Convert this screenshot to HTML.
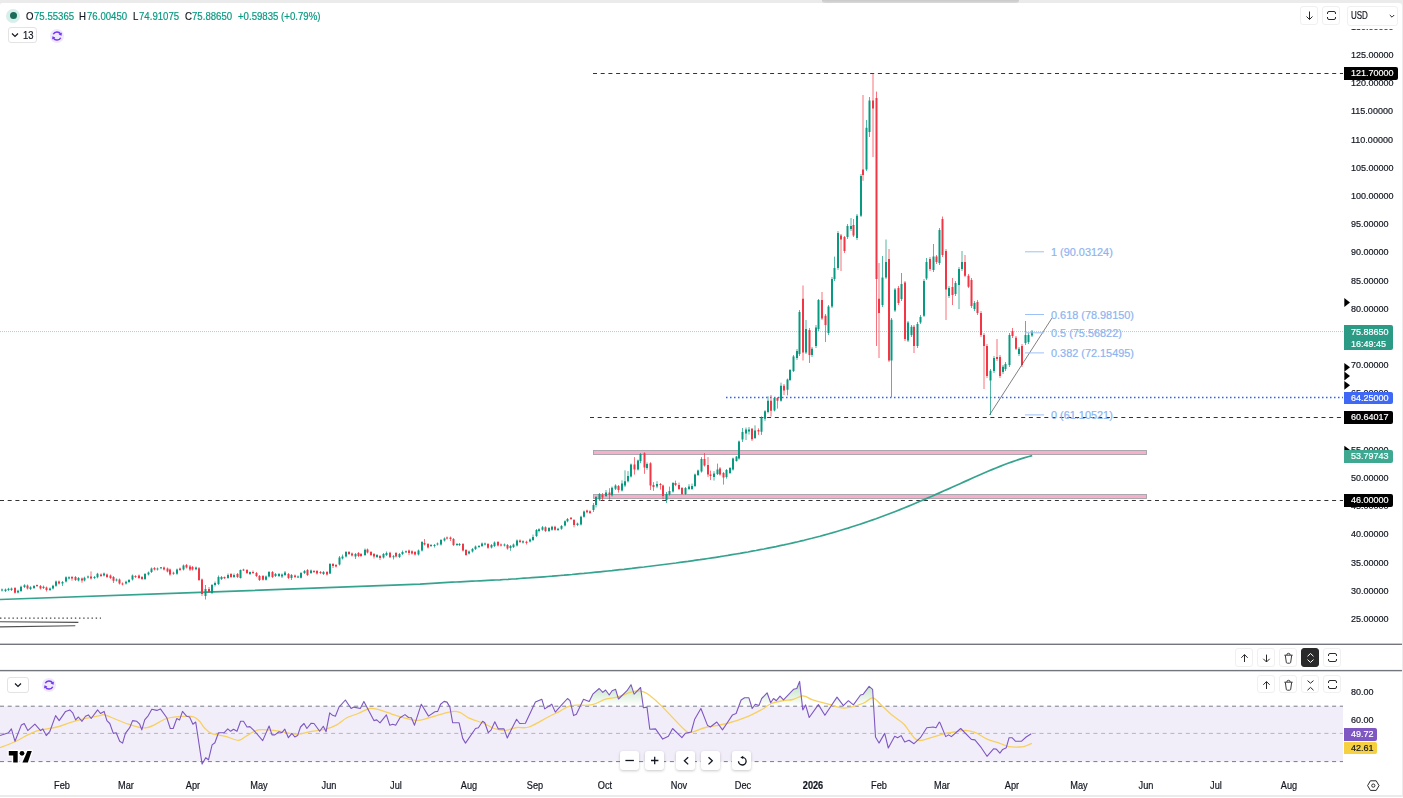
<!DOCTYPE html>
<html><head><meta charset="utf-8"><style>
*{box-sizing:border-box}
body div{-webkit-text-stroke:0.2px currentColor}
html,body{margin:0;padding:0;width:1403px;height:798px;overflow:hidden;background:#ebebeb;font-family:"Liberation Sans", sans-serif}
#panel{position:absolute;left:0;top:2.5px;width:1402px;height:792.5px;background:#fff;border-radius:2px 3px 0 0}
.pl{position:absolute;left:1351px;width:50px;height:12px;line-height:12px;font-size:9.7px;color:#131722;white-space:nowrap;transform:scaleX(0.93);transform-origin:0 0}
.tl{position:absolute;top:779px;width:50px;text-align:center;height:13px;line-height:13px;font-size:10px;color:#131722;transform:scaleX(0.92)}
.lab{position:absolute;left:1344.3px;color:#fff;font-size:9.7px;line-height:12.5px;padding-left:7px;padding-right:4px;border-radius:0 2px 2px 0;white-space:nowrap}
.lab span{display:inline-block;transform:scaleX(0.93);transform-origin:0 0;margin-right:-3px}
.btn{position:absolute;width:18.3px;height:18.5px;border:1px solid #f0f0f0;border-radius:3px;background:#fff}
.btn svg{position:absolute;left:0;top:0}
.lg{position:absolute;top:9.8px;font-size:11px;line-height:13px;white-space:nowrap;transform:scaleX(0.875);transform-origin:0 0}
.fib{position:absolute;left:1051px;font-size:10.9px;color:#8db4f0;line-height:12px;white-space:nowrap}
.nav{position:absolute;top:751.2px;width:19px;height:19px;background:#fff;border-radius:3px;box-shadow:0 1px 3px rgba(0,0,0,0.22)}
</style></head><body>
<div id="panel"></div>
<div style="position:absolute;left:0;top:797.3px;width:1403px;height:1px;background:#fff"></div>
<div style="position:absolute;left:822px;top:0;width:197px;height:2.5px;background:linear-gradient(#c9c9c9,#d9d9d9);border-radius:0 0 4px 4px;filter:blur(0.5px)"></div>
<svg width="1403" height="798" viewBox="0 0 1403 798" style="position:absolute;left:0;top:0">
<defs><clipPath id="cc"><rect x="0" y="3" width="1343" height="640"/></clipPath><clipPath id="rc"><rect x="0" y="672" width="1343" height="97"/></clipPath><linearGradient id="gfill" x1="0" y1="0" x2="0" y2="1"><stop offset="0" stop-color="#089981" stop-opacity="0.35"/><stop offset="1" stop-color="#089981" stop-opacity="0"/></linearGradient></defs>
<g clip-path="url(#cc)">
<line x1="0" y1="331.6" x2="1343" y2="331.6" stroke="#089981" stroke-opacity="0.4" stroke-width="1" stroke-dasharray="1 1"/>
<rect x="593.5" y="450.5" width="553" height="4" fill="#f6b0c9" stroke="#a3a3a8" stroke-width="0.9"/>
<rect x="593.5" y="494.5" width="553" height="4" fill="#f6b0c9" stroke="#a3a3a8" stroke-width="0.9"/>
<line x1="593" y1="73.5" x2="1343" y2="73.5" stroke="#333" stroke-width="1" stroke-dasharray="4 3.7"/>
<line x1="590" y1="417.5" x2="1343" y2="417.5" stroke="#333" stroke-width="1" stroke-dasharray="4 3.7"/>
<line x1="0" y1="500.5" x2="1343" y2="500.5" stroke="#333" stroke-width="1" stroke-dasharray="4 3.7"/>
<line x1="726" y1="397.5" x2="1343" y2="397.5" stroke="#2962ff" stroke-width="1.3" stroke-dasharray="1.5 2.5"/>
<path d="M0.0 599.5 L200.0 592.4 L420.0 584.2 L440.0 582.8 L444.0 582.6 L448.0 582.4 L452.0 582.2 L456.0 582.0 L460.0 581.8 L464.0 581.6 L468.0 581.4 L472.0 581.2 L476.0 581.0 L480.0 580.8 L484.0 580.6 L488.0 580.4 L492.0 580.2 L496.0 580.0 L500.0 579.8 L504.0 579.5 L508.0 579.3 L512.0 579.0 L516.0 578.8 L520.0 578.5 L524.0 578.2 L528.0 578.0 L532.0 577.7 L536.0 577.4 L540.0 577.1 L544.0 576.8 L548.0 576.5 L552.0 576.2 L556.0 575.8 L560.0 575.5 L564.0 575.2 L568.0 574.8 L572.0 574.5 L576.0 574.1 L580.0 573.7 L584.0 573.4 L588.0 573.0 L592.0 572.6 L596.0 572.2 L600.0 571.8 L604.0 571.4 L608.0 571.0 L612.0 570.6 L616.0 570.1 L620.0 569.7 L624.0 569.3 L628.0 568.8 L632.0 568.4 L636.0 567.9 L640.0 567.4 L644.0 567.0 L648.0 566.5 L652.0 566.0 L656.0 565.5 L660.0 565.0 L664.0 564.5 L668.0 564.0 L672.0 563.5 L676.0 563.0 L680.0 562.4 L684.0 561.9 L688.0 561.4 L692.0 560.8 L696.0 560.2 L700.0 559.7 L704.0 559.1 L708.0 558.5 L712.0 557.9 L716.0 557.3 L720.0 556.7 L724.0 556.0 L728.0 555.4 L732.0 554.7 L736.0 554.0 L740.0 553.4 L744.0 552.7 L748.0 552.0 L752.0 551.2 L756.0 550.5 L760.0 549.7 L764.0 549.0 L768.0 548.2 L772.0 547.4 L776.0 546.6 L780.0 545.7 L784.0 544.9 L788.0 544.0 L792.0 543.1 L796.0 542.2 L800.0 541.2 L804.0 540.3 L808.0 539.3 L812.0 538.3 L816.0 537.2 L820.0 536.2 L824.0 535.1 L828.0 534.0 L832.0 532.9 L836.0 531.7 L840.0 530.5 L844.0 529.3 L848.0 528.1 L852.0 526.8 L856.0 525.5 L860.0 524.2 L864.0 522.9 L868.0 521.5 L872.0 520.1 L876.0 518.7 L880.0 517.2 L884.0 515.8 L888.0 514.3 L892.0 512.7 L896.0 511.2 L900.0 509.6 L904.0 508.0 L908.0 506.4 L912.0 504.7 L916.0 503.0 L920.0 501.3 L924.0 499.6 L928.0 497.9 L932.0 496.2 L936.0 494.4 L940.0 492.6 L944.0 490.8 L948.0 489.1 L952.0 487.3 L956.0 485.5 L960.0 483.7 L964.0 481.9 L968.0 480.1 L972.0 478.3 L976.0 476.5 L980.0 474.8 L984.0 473.0 L988.0 471.3 L992.0 469.6 L996.0 468.0 L1000.0 466.4 L1004.0 464.8 L1008.0 463.3 L1012.0 461.9 L1016.0 460.5 L1020.0 459.1 L1024.0 457.9 L1028.0 456.7 L1032.2 455.6" stroke="#36a38f" stroke-width="1.7" fill="none" stroke-linejoin="round"/>
<path d="M2.0 588.5V591.5M5.5 588.5V592.0M8.5 587.8V591.0M11.5 587.5V591.0M18.0 589.7V593.4M21.0 585.7V592.0M24.5 584.2V588.0M30.5 586.2V590.0M34.0 585.0V589.0M43.5 585.5V589.0M50.0 587.5V591.0M53.0 584.8V589.5M56.0 580.5V586.8M62.5 581.0V586.0M66.0 576.3V582.5M69.0 576.3V579.5M78.5 577.0V581.4M84.5 576.7V581.4M88.0 575.5V578.5M94.5 576.0V579.0M97.5 572.8V578.3M104.0 572.5V576.5M116.5 578.5V581.5M126.0 580.7V584.5M129.0 579.0V583.0M132.5 574.5V580.5M145.0 573.0V580.0M148.5 571.5V575.5M151.5 567.5V573.0M157.5 567.5V570.5M161.0 567.0V569.3M177.0 568.5V574.8M183.5 564.5V570.5M196.0 566.5V570.3M205.5 585.0V599.5M212.0 584.0V594.0M215.0 581.5V586.5M218.5 575.5V585.0M221.5 576.0V580.0M228.0 573.5V578.8M234.0 573.5V578.0M240.5 569.5V578.5M250.0 571.5V575.0M266.0 575.5V580.5M269.0 571.0V577.5M275.5 573.0V577.0M279.0 573.0V577.0M282.0 573.5V578.0M285.0 571.0V576.0M291.5 574.0V580.0M298.0 575.5V578.0M301.0 572.0V578.5M304.5 570.0V574.0M311.0 569.5V574.0M323.5 571.0V575.0M330.0 563.0V574.0M339.5 556.0V565.5M342.5 554.5V559.5M346.0 551.0V557.5M355.5 553.0V559.0M365.0 548.5V556.0M377.0 554.0V558.0M383.5 553.0V558.5M386.5 551.5V556.0M393.5 555.0V559.5M399.5 553.0V558.0M402.5 550.5V555.0M406.0 550.5V553.0M418.5 549.5V555.5M422.0 541.0V551.5M431.0 544.0V547.0M434.5 544.0V547.5M437.5 542.5V545.5M441.0 539.0V545.6M444.5 537.4V541.5M457.0 543.0V546.0M459.5 543.0V546.0M469.0 550.5V554.5M472.5 548.0V552.5M475.5 545.5V550.0M479.0 545.0V548.0M482.0 542.5V547.0M485.0 542.6V545.5M491.5 544.0V548.5M494.5 541.4V547.0M504.5 543.5V546.5M510.5 545.0V550.8M513.5 543.5V548.0M517.0 539.4V546.5M523.0 540.3V543.6M530.0 538.4V542.5M533.0 534.5V541.0M536.5 529.0V537.0M539.0 528.2V532.4M542.5 526.0V530.7M549.0 527.0V532.0M552.0 525.8V530.7M558.0 527.8V531.0M561.5 525.0V529.8M565.0 520.3V526.5M567.5 518.0V522.3M577.5 522.6V526.1M581.0 515.7V525.5M584.0 510.5V517.7M593.5 503.0V512.0M596.0 496.0V507.5M599.5 493.0V501.0M606.0 490.0V497.0M612.0 486.5V496.5M615.5 484.3V490.0M622.0 480.3V491.5M625.0 470.3V487.0M628.0 471.1V482.5M631.0 463.5V477.5M638.0 459.5V470.5M640.5 453.0V463.2M647.0 462.4V469.8M657.0 481.2V488.2M666.5 492.0V503.0M669.5 486.6V495.6M673.0 482.0V492.6M685.5 487.0V495.0M689.0 484.2V490.0M692.0 483.6V490.0M695.0 473.6V487.0M698.0 469.6V476.0M701.5 457.1V472.6M714.0 471.1V480.6M717.5 463.6V475.0M726.5 469.0V478.6M730.0 467.1V474.1M733.0 457.6V470.6M736.5 456.1V461.6M739.0 440.5V459.6M742.5 428.0V442.0M746.0 427.5V440.0M749.0 427.0V434.5M755.0 425.3V439.0M761.5 416.4V434.9M765.0 410.2V420.9M768.0 396.3V413.4M774.5 397.0V411.4M781.0 382.7V401.7M787.5 378.6V395.4M790.0 369.0V381.0M793.5 355.0V372.0M797.0 349.0V360.0M799.5 310.0V356.0M806.0 320.0V354.0M812.0 347.0V357.0M816.0 325.0V348.0M818.5 299.0V331.0M828.5 305.0V335.0M832.0 277.0V308.0M834.5 256.6V281.0M838.0 231.0V270.0M847.5 224.0V239.0M851.0 218.0V231.0M857.0 214.0V240.0M861.0 174.0V217.0M866.5 120.0V171.0M869.5 97.0V137.0M882.5 256.0V307.0M886.0 239.5V279.0M891.5 318.0V397.0M895.0 288.0V312.0M901.5 273.0V301.0M908.0 321.0V342.0M911.5 325.0V337.0M917.5 322.0V348.0M920.5 315.0V324.0M924.0 279.0V317.0M926.5 258.0V280.0M933.5 244.0V272.0M939.5 228.0V265.0M949.0 286.0V298.0M955.5 281.0V296.0M959.0 267.0V309.0M962.0 251.0V271.0M974.5 301.0V311.0M990.5 369.0V415.0M994.0 356.0V373.0M1003.0 365.0V374.0M1005.5 362.0V371.0M1009.5 333.0V367.0M1019.0 347.0V356.0M1025.5 321.0V345.0M1028.5 333.0V344.0M1032.0 330.0V337.0" stroke="#089981" stroke-opacity="0.7" stroke-width="1" fill="none"/><path d="M15.0 587.0V593.5M27.5 584.5V589.5M37.0 584.5V587.0M40.5 585.0V589.5M46.5 586.5V591.5M59.0 580.5V584.5M72.0 576.0V580.7M75.5 576.0V581.0M82.0 577.5V582.8M91.0 571.4V579.5M101.0 573.4V577.0M107.0 573.5V578.0M110.5 574.5V579.0M113.5 576.0V583.0M119.5 578.5V584.5M122.5 582.4V585.4M135.5 575.2V578.0M139.0 574.5V579.0M142.0 576.0V580.0M154.5 567.0V570.5M164.0 566.5V570.5M167.5 567.5V572.4M170.0 568.5V575.7M173.5 571.7V574.8M180.0 567.5V571.0M186.5 564.0V568.5M190.0 565.0V571.0M192.5 566.0V570.5M199.0 567.0V581.0M202.0 578.5V596.0M209.0 587.0V593.0M224.5 576.5V579.0M231.0 573.0V578.0M237.5 573.0V578.0M243.5 568.7V571.0M247.0 569.0V574.0M253.0 570.5V574.0M256.5 572.0V577.0M259.5 575.0V581.0M263.0 575.0V580.5M272.5 571.0V578.0M288.5 573.0V579.0M295.0 574.5V578.0M307.5 569.0V576.0M314.0 570.0V573.0M317.0 570.0V574.5M320.5 571.0V574.0M327.0 571.0V575.5M333.0 563.0V568.0M336.0 564.0V567.5M349.0 551.0V555.0M352.0 552.5V556.5M358.5 552.0V557.0M361.0 553.0V557.0M367.5 548.5V553.5M371.0 551.0V556.0M374.0 553.0V558.5M380.0 555.0V560.0M390.0 551.8V558.0M396.0 552.0V557.5M409.0 549.5V555.2M412.0 550.3V554.6M415.0 551.0V555.5M424.5 539.0V545.5M428.0 543.0V548.5M447.0 536.5V539.5M450.5 536.5V541.0M453.5 538.0V546.0M463.0 543.0V551.5M466.0 549.0V555.8M488.0 543.0V548.8M498.0 541.0V546.5M501.0 543.5V546.5M507.5 544.0V549.6M520.0 539.4V543.0M526.5 540.7V544.5M545.5 526.3V532.0M555.0 525.8V530.7M571.0 517.0V520.0M574.0 519.0V527.3M587.0 509.6V513.3M590.0 510.3V514.0M602.5 493.0V500.5M609.5 488.2V499.6M618.5 485.0V492.6M634.5 457.1V474.6M644.5 452.3V473.8M650.5 462.2V490.0M653.5 482.1V490.9M660.5 483.0V489.6M663.0 484.6V499.2M675.5 480.6V486.2M679.0 482.6V490.0M682.0 487.0V495.0M704.5 453.1V466.6M708.0 457.1V477.1M710.5 470.6V480.1M720.0 467.1V475.6M723.5 472.0V484.6M752.0 428.0V441.0M758.5 428.3V434.9M771.0 395.0V416.5M777.5 397.0V408.6M784.0 384.0V395.0M803.0 285.5V360.5M809.5 328.0V363.0M822.0 292.0V320.0M825.5 314.0V342.0M841.0 234.0V271.0M844.5 236.0V253.0M853.5 219.0V237.0M863.0 95.0V180.8M873.0 73.5V157.0M876.5 91.6V346.0M879.0 263.0V358.0M889.0 249.0V362.0M898.5 286.0V305.0M905.0 281.0V341.0M914.0 325.0V353.0M930.0 257.0V271.0M936.5 255.0V264.0M942.5 216.5V257.0M946.0 249.0V320.0M952.5 278.0V305.0M965.0 255.0V277.0M968.5 274.0V288.0M971.5 278.0V308.0M977.5 300.0V315.0M981.0 311.0V337.0M984.0 333.0V389.0M987.0 344.0V378.0M997.0 339.0V361.0M1000.0 355.0V378.0M1012.5 328.0V338.0M1016.0 336.0V350.0M1022.0 344.0V367.0" stroke="#f23645" stroke-opacity="0.7" stroke-width="1" fill="none"/><path d="M1.0 589.5h2V590.5h-2ZM4.5 589.5h2V591.0h-2ZM7.5 588.8h2V590.0h-2ZM10.5 588.5h2V590.0h-2ZM17.0 590.7h2V592.4h-2ZM20.0 586.7h2V591.0h-2ZM23.5 585.2h2V587.0h-2ZM29.5 587.2h2V589.0h-2ZM33.0 586.0h2V588.0h-2ZM42.5 586.8h2V588.0h-2ZM49.0 588.5h2V590.0h-2ZM52.0 585.8h2V588.5h-2ZM55.0 581.5h2V585.8h-2ZM61.5 582.0h2V583.5h-2ZM65.0 577.3h2V581.5h-2ZM68.0 577.3h2V578.5h-2ZM77.5 578.0h2V580.4h-2ZM83.5 577.7h2V580.4h-2ZM87.0 576.5h2V577.5h-2ZM93.5 577.0h2V578.0h-2ZM96.5 573.8h2V577.3h-2ZM103.0 573.5h2V575.5h-2ZM115.5 579.5h2V580.5h-2ZM125.0 581.7h2V583.5h-2ZM128.0 580.0h2V582.0h-2ZM131.5 575.5h2V579.5h-2ZM144.0 574.0h2V579.0h-2ZM147.5 572.5h2V574.5h-2ZM150.5 568.5h2V572.0h-2ZM156.5 568.5h2V569.5h-2ZM160.0 567.3h2V568.3h-2ZM176.0 569.5h2V573.8h-2ZM182.5 565.5h2V569.5h-2ZM195.0 567.5h2V569.3h-2ZM204.5 589.0h2V596.0h-2ZM211.0 585.0h2V593.0h-2ZM214.0 583.0h2V585.0h-2ZM217.5 577.0h2V584.0h-2ZM220.5 577.0h2V579.0h-2ZM227.0 575.0h2V578.0h-2ZM233.0 575.0h2V577.0h-2ZM239.5 570.0h2V578.0h-2ZM249.0 572.0h2V574.0h-2ZM265.0 576.5h2V579.7h-2ZM268.0 572.0h2V576.5h-2ZM274.5 574.0h2V576.0h-2ZM278.0 574.0h2V576.0h-2ZM281.0 574.6h2V576.5h-2ZM284.0 572.5h2V575.0h-2ZM290.5 575.0h2V578.0h-2ZM297.0 576.5h2V577.5h-2ZM300.0 573.0h2V577.8h-2ZM303.5 571.0h2V573.0h-2ZM310.0 570.5h2V573.0h-2ZM322.5 572.0h2V574.0h-2ZM329.0 564.0h2V573.4h-2ZM338.5 557.5h2V564.6h-2ZM341.5 556.5h2V558.5h-2ZM345.0 552.0h2V556.5h-2ZM354.5 554.0h2V556.6h-2ZM364.0 549.7h2V555.0h-2ZM376.0 555.0h2V557.0h-2ZM382.5 554.0h2V557.5h-2ZM385.5 553.0h2V555.0h-2ZM392.5 556.2h2V557.2h-2ZM398.5 554.0h2V557.0h-2ZM401.5 552.0h2V554.0h-2ZM405.0 551.2h2V552.2h-2ZM417.5 550.5h2V554.5h-2ZM421.0 542.0h2V550.5h-2ZM430.0 545.0h2V546.0h-2ZM433.5 545.0h2V546.0h-2ZM436.5 543.5h2V544.5h-2ZM440.0 540.0h2V544.6h-2ZM443.5 538.4h2V540.5h-2ZM456.0 544.0h2V545.0h-2ZM458.5 544.0h2V545.0h-2ZM468.0 551.5h2V553.5h-2ZM471.5 549.0h2V551.5h-2ZM474.5 546.5h2V549.0h-2ZM478.0 546.0h2V547.0h-2ZM481.0 543.5h2V546.0h-2ZM484.0 543.5h2V544.5h-2ZM490.5 545.0h2V547.5h-2ZM493.5 542.4h2V546.0h-2ZM503.5 544.5h2V545.6h-2ZM509.5 546.0h2V548.0h-2ZM512.5 544.5h2V547.0h-2ZM516.0 540.4h2V545.5h-2ZM522.0 541.3h2V542.6h-2ZM529.0 539.4h2V541.5h-2ZM532.0 537.0h2V540.0h-2ZM535.5 530.0h2V536.0h-2ZM538.0 529.2h2V531.0h-2ZM541.5 527.3h2V529.7h-2ZM548.0 528.0h2V531.0h-2ZM551.0 526.8h2V529.7h-2ZM557.0 528.8h2V530.1h-2ZM560.5 526.0h2V528.8h-2ZM564.0 521.3h2V525.5h-2ZM566.5 519.0h2V521.3h-2ZM576.5 523.6h2V525.1h-2ZM580.0 516.7h2V524.5h-2ZM583.0 511.5h2V516.7h-2ZM592.5 504.9h2V510.0h-2ZM595.0 497.0h2V505.0h-2ZM598.5 494.0h2V499.6h-2ZM605.0 492.6h2V496.0h-2ZM611.0 487.8h2V495.3h-2ZM614.5 485.6h2V488.7h-2ZM621.0 483.4h2V490.4h-2ZM624.0 481.2h2V485.6h-2ZM627.0 476.0h2V481.2h-2ZM630.0 464.6h2V476.4h-2ZM637.0 460.6h2V469.4h-2ZM639.5 454.0h2V461.0h-2ZM646.0 464.0h2V468.0h-2ZM656.0 484.0h2V486.5h-2ZM665.5 494.0h2V500.0h-2ZM668.5 491.0h2V494.6h-2ZM672.0 483.0h2V491.6h-2ZM684.5 488.0h2V494.0h-2ZM688.0 486.6h2V489.0h-2ZM691.0 486.0h2V489.0h-2ZM694.0 474.6h2V486.0h-2ZM697.0 470.6h2V475.0h-2ZM700.5 459.0h2V471.6h-2ZM713.0 473.6h2V477.0h-2ZM716.5 469.6h2V474.0h-2ZM725.5 470.0h2V477.0h-2ZM729.0 468.0h2V473.0h-2ZM732.0 458.6h2V469.6h-2ZM735.5 456.6h2V461.0h-2ZM738.0 441.5h2V458.6h-2ZM741.5 432.0h2V439.5h-2ZM745.0 429.5h2V433.5h-2ZM748.0 429.5h2V431.5h-2ZM754.0 430.5h2V438.0h-2ZM760.5 417.4h2V431.8h-2ZM764.0 411.2h2V418.7h-2ZM767.0 400.7h2V412.0h-2ZM773.5 398.0h2V410.4h-2ZM780.0 385.8h2V400.7h-2ZM786.5 379.6h2V389.7h-2ZM789.0 370.0h2V380.0h-2ZM792.5 356.6h2V371.0h-2ZM796.0 351.0h2V358.0h-2ZM798.5 312.0h2V354.0h-2ZM805.0 329.0h2V352.6h-2ZM811.0 348.7h2V355.0h-2ZM815.0 327.6h2V346.0h-2ZM817.5 300.0h2V329.0h-2ZM827.5 306.6h2V333.0h-2ZM831.0 279.0h2V306.6h-2ZM833.5 268.0h2V279.0h-2ZM837.0 233.0h2V268.0h-2ZM846.5 226.0h2V237.0h-2ZM850.0 226.0h2V229.0h-2ZM856.0 215.8h2V238.0h-2ZM860.0 176.0h2V215.8h-2ZM865.5 127.7h2V169.5h-2ZM868.5 100.6h2V132.0h-2ZM881.5 277.6h2V305.0h-2ZM885.0 262.0h2V277.6h-2ZM890.5 319.7h2V360.5h-2ZM894.0 289.5h2V310.5h-2ZM900.5 284.0h2V299.0h-2ZM907.0 322.6h2V340.5h-2ZM910.5 326.7h2V335.0h-2ZM916.5 324.0h2V346.0h-2ZM919.5 317.0h2V322.6h-2ZM923.0 281.0h2V315.7h-2ZM925.5 262.0h2V278.5h-2ZM932.5 256.5h2V270.0h-2ZM938.5 230.0h2V263.0h-2ZM948.0 288.0h2V296.0h-2ZM954.5 283.0h2V294.0h-2ZM958.0 269.0h2V285.0h-2ZM961.0 262.0h2V269.0h-2ZM973.5 303.0h2V309.0h-2ZM989.5 370.8h2V380.4h-2ZM993.0 358.0h2V371.0h-2ZM1002.0 366.7h2V372.0h-2ZM1004.5 364.0h2V369.0h-2ZM1008.5 335.0h2V365.0h-2ZM1018.0 348.8h2V354.0h-2ZM1024.5 335.0h2V343.0h-2ZM1027.5 335.0h2V342.0h-2ZM1031.0 331.7h2V335.5h-2Z" fill="#089981"/><path d="M14.0 588.0h2V592.8h-2ZM26.5 585.5h2V588.5h-2ZM36.0 585.0h2V586.0h-2ZM39.5 586.0h2V588.5h-2ZM45.5 587.5h2V590.0h-2ZM58.0 581.5h2V583.5h-2ZM71.0 577.0h2V578.5h-2ZM74.5 577.0h2V580.0h-2ZM81.0 578.5h2V580.4h-2ZM90.0 576.5h2V578.5h-2ZM100.0 574.4h2V576.0h-2ZM106.0 574.5h2V577.0h-2ZM109.5 575.5h2V578.0h-2ZM112.5 577.0h2V580.8h-2ZM118.5 579.5h2V583.5h-2ZM121.5 583.4h2V584.4h-2ZM134.5 576.0h2V577.0h-2ZM138.0 575.5h2V578.0h-2ZM141.0 577.0h2V579.0h-2ZM153.5 568.0h2V569.5h-2ZM163.0 567.5h2V569.5h-2ZM166.5 568.5h2V571.4h-2ZM169.0 569.5h2V574.4h-2ZM172.5 572.7h2V573.8h-2ZM179.0 568.5h2V570.0h-2ZM185.5 565.0h2V567.5h-2ZM189.0 566.5h2V569.5h-2ZM191.5 567.0h2V569.5h-2ZM198.0 568.3h2V580.0h-2ZM201.0 579.6h2V594.0h-2ZM208.0 589.0h2V592.0h-2ZM223.5 577.0h2V578.2h-2ZM230.0 574.0h2V577.0h-2ZM236.5 574.0h2V577.0h-2ZM242.5 569.4h2V570.4h-2ZM246.0 570.0h2V573.0h-2ZM252.0 572.0h2V573.0h-2ZM255.5 573.0h2V576.0h-2ZM258.5 576.0h2V580.0h-2ZM262.0 576.0h2V579.7h-2ZM271.5 572.0h2V577.0h-2ZM287.5 574.0h2V578.0h-2ZM294.0 575.5h2V577.0h-2ZM306.5 570.0h2V575.0h-2ZM313.0 571.0h2V572.0h-2ZM316.0 571.0h2V573.6h-2ZM319.5 572.0h2V573.0h-2ZM326.0 572.0h2V574.4h-2ZM332.0 564.0h2V566.0h-2ZM335.0 565.0h2V566.5h-2ZM348.0 552.0h2V554.0h-2ZM351.0 553.5h2V555.5h-2ZM357.5 553.0h2V556.0h-2ZM360.0 554.0h2V556.0h-2ZM366.5 549.5h2V552.6h-2ZM370.0 552.0h2V555.0h-2ZM373.0 554.0h2V556.4h-2ZM379.0 556.0h2V558.0h-2ZM389.0 552.8h2V557.2h-2ZM395.0 553.0h2V556.5h-2ZM408.0 550.5h2V553.0h-2ZM411.0 551.3h2V553.6h-2ZM414.0 552.0h2V554.5h-2ZM423.5 543.0h2V544.5h-2ZM427.0 544.0h2V547.5h-2ZM446.0 537.5h2V538.5h-2ZM449.5 537.5h2V539.0h-2ZM452.5 539.0h2V545.0h-2ZM462.0 544.0h2V550.5h-2ZM465.0 550.0h2V555.0h-2ZM487.0 544.0h2V547.8h-2ZM497.0 542.0h2V545.5h-2ZM500.0 544.5h2V545.6h-2ZM506.5 545.0h2V548.6h-2ZM519.0 540.4h2V542.0h-2ZM525.5 541.7h2V543.0h-2ZM544.5 527.3h2V531.0h-2ZM554.0 526.8h2V529.7h-2ZM570.0 517.8h2V519.0h-2ZM573.0 520.0h2V525.0h-2ZM586.0 510.6h2V512.3h-2ZM589.0 511.3h2V513.0h-2ZM601.5 494.8h2V497.5h-2ZM608.5 492.6h2V494.8h-2ZM617.5 486.0h2V490.0h-2ZM633.5 464.6h2V469.4h-2ZM643.5 453.2h2V467.6h-2ZM649.5 463.2h2V485.6h-2ZM652.5 485.0h2V487.0h-2ZM659.5 484.0h2V485.0h-2ZM662.0 485.6h2V496.0h-2ZM674.5 483.0h2V485.0h-2ZM678.0 485.0h2V489.0h-2ZM681.0 488.0h2V494.0h-2ZM703.5 459.0h2V465.6h-2ZM707.0 465.0h2V474.6h-2ZM709.5 474.6h2V476.0h-2ZM719.0 468.6h2V474.6h-2ZM722.5 473.0h2V477.6h-2ZM751.0 428.8h2V439.3h-2ZM757.5 430.0h2V431.4h-2ZM770.0 400.7h2V410.8h-2ZM776.5 398.0h2V400.7h-2ZM783.0 385.8h2V390.6h-2ZM802.0 298.7h2V352.6h-2ZM808.5 330.0h2V355.0h-2ZM821.0 300.0h2V318.4h-2ZM824.5 315.8h2V325.0h-2ZM840.0 235.5h2V239.5h-2ZM843.5 237.0h2V251.0h-2ZM852.5 225.0h2V235.5h-2ZM862.0 169.5h2V175.0h-2ZM872.0 100.6h2V108.5h-2ZM875.5 98.0h2V279.0h-2ZM878.0 298.7h2V313.0h-2ZM888.0 259.0h2V360.5h-2ZM897.5 288.0h2V303.0h-2ZM904.0 282.6h2V339.0h-2ZM913.0 326.7h2V346.0h-2ZM929.0 259.0h2V269.0h-2ZM935.5 256.5h2V262.0h-2ZM941.5 219.0h2V255.0h-2ZM945.0 251.0h2V289.5h-2ZM951.5 287.0h2V295.0h-2ZM964.0 262.0h2V275.8h-2ZM967.5 275.8h2V286.8h-2ZM970.5 280.0h2V306.0h-2ZM976.5 302.0h2V313.0h-2ZM980.0 313.0h2V335.0h-2ZM983.0 335.0h2V346.0h-2ZM986.0 346.0h2V376.0h-2ZM996.0 357.0h2V359.0h-2ZM999.0 357.0h2V376.0h-2ZM1011.5 331.0h2V336.0h-2ZM1015.0 337.7h2V348.8h-2ZM1021.0 346.0h2V365.0h-2Z" fill="#f23645"/>
<line x1="989.5" y1="415" x2="1052" y2="318" stroke="#555" stroke-width="0.75"/>
<line x1="1025" y1="251.8" x2="1044" y2="251.8" stroke="#9ec1f5" stroke-width="1"/>
<line x1="1025" y1="314.5" x2="1044" y2="314.5" stroke="#9ec1f5" stroke-width="1"/>
<line x1="1025" y1="332.8" x2="1044" y2="332.8" stroke="#9ec1f5" stroke-width="1"/>
<line x1="1025" y1="352.9" x2="1044" y2="352.9" stroke="#9ec1f5" stroke-width="1"/>
<line x1="1025" y1="414.9" x2="1044" y2="414.9" stroke="#9ec1f5" stroke-width="1"/>
<line x1="0" y1="618.1" x2="101" y2="618.1" stroke="#444" stroke-width="1.3" stroke-dasharray="1.4 2.76"/>
<line x1="0" y1="621.8" x2="78.4" y2="622.4" stroke="#505050" stroke-width="1.1"/>
<line x1="0" y1="626.9" x2="75.3" y2="625.7" stroke="#505050" stroke-width="1.1"/>
</g>
<path d="M1344.3 298.1L1350 302.5L1344.3 306.9Z" fill="#000"/>
<path d="M1344.3 362.9L1350 367.3L1344.3 371.7Z" fill="#000"/>
<path d="M1344.3 371.6L1350 376.0L1344.3 380.4Z" fill="#000"/>
<path d="M1344.3 380.9L1350 385.3L1344.3 389.7Z" fill="#000"/>
<path d="M1344.3 445.7L1350 450.1L1344.3 454.5Z" fill="#000"/>
<rect x="0" y="643.6" width="1402" height="1.4" fill="#74767d"/>
<rect x="0" y="669.9" width="1402" height="1.4" fill="#74767d"/>
<g clip-path="url(#rc)">
<rect x="0" y="706.2" width="1345" height="55.4" fill="#7e57c2" fill-opacity="0.1"/>
<line x1="0" y1="706.2" x2="1345" y2="706.2" stroke="#787b86" stroke-width="1" stroke-dasharray="4 3.7"/>
<line x1="0" y1="761.6" x2="1345" y2="761.6" stroke="#787b86" stroke-width="1" stroke-dasharray="4 3.7"/>
<line x1="0" y1="733.4" x2="1345" y2="733.4" stroke="#787b86" stroke-opacity="0.5" stroke-width="1" stroke-dasharray="4 3.7"/>
<clipPath id="ob"><rect x="0" y="672" width="1343" height="34.2"/></clipPath>
<path d="M0.0 735.6 L8.6 732.7 L11.4 728.9 L15.0 741.3 L21.4 724.9 L24.2 723.5 L27.8 730.6 L34.9 724.2 L40.6 730.6 L42.8 728.9 L46.3 735.6 L49.9 731.3 L55.6 715.6 L59.2 720.6 L65.6 711.4 L69.8 709.9 L72.7 712.8 L75.6 719.9 L78.4 717.0 L82.0 721.3 L85.5 716.3 L88.4 714.9 L91.2 718.5 L97.6 709.9 L100.5 713.5 L104.1 711.4 L106.9 720.6 L109.8 723.5 L113.3 733.4 L116.2 732.7 L119.7 741.3 L122.6 743.1 L125.4 733.4 L129.7 727.7 L132.6 720.6 L136.8 721.3 L139.7 724.2 L141.8 729.9 L144.7 719.9 L148.3 715.6 L151.8 709.2 L156.8 710.4 L160.4 708.9 L166.8 717.8 L170.3 728.5 L173.2 728.5 L176.8 718.5 L179.6 719.9 L182.5 711.4 L186.7 716.3 L189.6 717.0 L192.9 724.2 L195.7 722.0 L202.1 764.1 L205.7 757.7 L208.5 759.8 L212.1 744.9 L214.9 742.7 L218.5 732.7 L224.2 732.7 L227.8 728.9 L230.6 731.3 L233.5 729.2 L237.0 731.3 L240.6 721.3 L243.5 721.3 L247.0 727.0 L249.9 726.6 L254.1 730.6 L262.7 740.6 L269.1 726.0 L272.0 734.9 L274.8 734.9 L279.1 731.7 L281.9 732.7 L284.8 729.2 L288.4 737.7 L291.9 733.4 L294.8 737.0 L297.6 735.6 L300.5 727.0 L304.0 723.5 L306.9 728.5 L311.2 723.2 L314.0 723.5 L319.7 731.3 L323.3 726.3 L326.1 731.7 L329.7 712.8 L332.6 715.3 L335.4 716.3 L339.0 707.1 L345.4 700.0 L351.1 708.5 L353.9 707.1 L360.3 708.5 L363.9 701.4 L373.9 720.6 L376.7 719.9 L380.0 722.8 L386.4 714.9 L389.7 725.2 L392.8 724.2 L395.7 725.2 L400.0 717.8 L405.0 714.6 L408.5 717.5 L411.4 717.8 L414.5 725.2 L421.3 704.2 L428.5 716.1 L434.9 711.8 L437.7 711.4 L440.6 704.2 L444.1 701.4 L447.0 702.1 L449.9 707.1 L452.7 722.8 L459.1 722.8 L462.7 738.4 L465.5 743.1 L475.5 728.5 L478.4 727.7 L482.6 721.3 L484.8 722.8 L488.3 732.7 L491.2 729.9 L494.8 721.8 L498.3 728.9 L504.0 728.9 L507.3 738.0 L511.1 729.9 L516.6 719.2 L519.7 723.5 L525.4 723.2 L535.4 702.1 L541.8 699.2 L544.7 708.9 L551.8 704.2 L555.3 712.1 L561.0 705.6 L567.5 698.5 L570.0 700.7 L573.6 715.6 L576.4 714.2 L583.5 699.2 L589.2 701.4 L592.8 694.2 L599.2 688.5 L602.8 692.4 L605.6 690.0 L609.2 695.0 L612.1 690.7 L615.6 689.3 L618.5 699.0 L627.0 690.7 L631.0 684.7 L634.1 694.2 L640.6 687.5 L643.4 707.8 L647.0 707.1 L649.8 729.2 L655.5 728.9 L662.7 739.1 L668.4 736.3 L672.6 728.5 L681.9 737.7 L685.5 733.2 L691.2 732.0 L694.7 719.2 L700.9 708.5 L707.6 725.6 L710.4 727.0 L716.8 722.0 L722.5 729.9 L726.8 723.5 L732.5 714.9 L736.1 713.5 L741.1 700.0 L744.6 697.8 L748.9 697.8 L752.2 708.5 L755.3 704.2 L758.9 705.6 L761.7 698.5 L767.1 692.8 L770.7 702.8 L773.5 698.5 L776.4 700.7 L780.0 696.1 L783.5 699.9 L793.5 689.3 L796.8 688.5 L799.6 681.4 L802.8 709.9 L805.6 704.9 L809.2 717.5 L818.4 704.6 L824.9 715.3 L837.0 697.1 L843.4 705.6 L848.4 700.7 L853.4 704.9 L860.5 695.0 L863.3 694.2 L869.1 686.4 L872.6 689.3 L875.5 737.0 L879.0 743.1 L884.7 733.4 L888.3 748.0 L894.7 736.3 L897.6 737.7 L901.1 735.6 L904.7 742.0 L909.0 740.3 L914.0 743.7 L920.4 737.7 L926.8 727.7 L933.2 727.0 L936.0 727.7 L939.3 722.0 L940.0 722.8 L945.7 736.6 L948.6 734.9 L951.4 736.6 L960.7 728.5 L971.4 739.4 L974.9 739.9 L981.3 747.7 L987.0 756.3 L993.5 748.8 L996.3 749.1 L999.9 753.1 L1002.7 749.4 L1006.3 747.7 L1009.1 737.7 L1012.0 737.7 L1015.6 741.3 L1021.3 741.3 L1026.2 737.0 L1031.2 733.7 L1031.2 706.2 L0 706.2 Z" fill="url(#gfill2)" clip-path="url(#ob)"/>
<linearGradient id="gfill2" gradientUnits="userSpaceOnUse" x1="0" y1="680" x2="0" y2="706"><stop offset="0" stop-color="#4caf50" stop-opacity="0.42"/><stop offset="1" stop-color="#4caf50" stop-opacity="0"/></linearGradient>
<path d="M0.0 747.7 C2.4 746.8 8.4 744.7 14.3 742.0 C20.2 739.3 28.5 733.8 35.6 731.3 C42.7 728.8 50.6 728.7 57.0 727.0 C63.4 725.3 66.9 723.2 74.0 721.3 C81.1 719.4 94.5 716.6 99.8 715.6 C105.0 714.6 100.8 713.8 105.5 715.2 C110.2 716.6 121.4 722.1 128.3 724.2 C135.2 726.3 140.4 728.7 146.8 727.7 C153.2 726.8 160.4 720.4 166.8 718.5 C173.2 716.6 180.8 716.5 185.3 716.3 C189.8 716.0 191.5 716.2 193.9 717.0 C196.3 717.8 197.9 719.5 199.6 721.3 C201.3 723.1 202.3 725.7 204.3 727.7 C206.3 729.7 207.9 732.0 211.4 733.4 C214.9 734.8 221.1 735.1 225.6 736.3 C230.1 737.4 234.9 740.4 238.5 740.3 C242.1 740.2 243.7 737.3 247.0 735.6 C250.3 733.9 253.6 730.7 258.4 729.9 C263.1 729.1 269.1 729.9 275.5 730.6 C281.9 731.3 290.9 734.1 296.9 734.2 C302.8 734.3 306.4 732.1 311.2 731.3 C315.9 730.5 321.1 730.3 325.4 729.2 C329.7 728.1 333.2 726.8 336.8 724.9 C340.4 723.0 343.2 719.7 346.8 717.8 C350.4 715.9 354.4 715.0 358.2 713.5 C362.0 712.0 366.0 709.1 369.6 708.5 C373.2 707.9 376.3 709.1 379.6 709.9 C382.9 710.7 387.2 712.4 389.6 713.2 C392.1 714.0 390.0 713.7 394.3 714.9 C398.6 716.1 409.7 719.9 415.6 720.3 C421.5 720.7 424.2 718.9 429.9 717.5 C435.6 716.1 444.9 712.7 449.9 711.8 C454.9 710.9 456.7 711.3 459.8 712.3 C462.9 713.3 464.3 715.9 468.4 717.8 C472.4 719.7 479.8 721.7 484.1 723.5 C488.4 725.3 490.4 727.4 494.0 728.5 C497.6 729.6 501.6 730.5 505.4 730.3 C509.2 730.1 513.0 728.0 516.9 727.5 C520.8 727.0 523.8 728.8 529.0 727.0 C534.2 725.2 543.1 719.6 548.2 717.0 C553.3 714.4 555.8 713.3 559.6 711.4 C563.4 709.5 565.7 706.7 571.0 705.6 C576.3 704.5 585.6 706.0 591.4 704.9 C597.2 703.8 601.3 700.5 605.6 699.2 C609.9 697.9 612.7 698.3 617.0 697.1 C621.3 695.9 627.5 693.1 631.3 692.1 C635.1 691.1 637.2 690.8 639.8 691.0 C642.4 691.2 643.4 691.1 647.0 693.5 C650.6 695.9 655.0 699.6 661.2 705.6 C667.4 711.6 679.0 724.8 684.0 729.2 C689.0 733.7 687.6 732.6 691.2 732.3 C694.8 732.0 699.5 729.0 705.4 727.5 C711.3 726.0 719.7 725.4 726.8 723.5 C733.9 721.6 742.3 718.7 748.2 716.3 C754.1 713.9 758.5 711.3 762.4 709.2 C766.3 707.1 768.0 704.9 771.4 703.5 C774.8 702.1 779.2 701.4 782.8 700.7 C786.4 700.0 789.7 700.3 792.8 699.5 C795.9 698.7 799.2 696.6 801.3 696.1 C803.4 695.6 803.7 695.8 805.6 696.4 C807.5 697.0 808.9 698.6 812.7 699.9 C816.5 701.2 823.2 702.8 828.4 704.2 C833.6 705.6 838.4 708.2 844.1 708.1 C849.8 708.0 857.9 705.2 862.6 703.5 C867.4 701.8 869.5 697.6 872.6 697.8 C875.7 698.0 877.9 701.9 881.2 704.9 C884.5 707.9 888.8 712.4 892.6 715.6 C896.4 718.8 900.0 720.2 904.0 724.2 C908.0 728.2 912.3 737.6 916.8 739.9 C921.3 742.1 926.4 738.8 931.1 737.7 C935.9 736.6 941.4 734.4 945.3 733.4 C949.2 732.4 950.9 732.5 954.3 732.0 C957.7 731.5 962.2 730.2 965.7 730.3 C969.2 730.4 972.1 731.2 975.6 732.7 C979.1 734.2 983.0 737.3 987.0 739.1 C991.0 740.9 996.3 742.1 999.9 743.4 C1003.5 744.6 1005.1 746.0 1008.4 746.6 C1011.7 747.2 1016.9 747.1 1019.8 747.0 C1022.6 746.9 1023.5 746.6 1025.5 746.0 C1027.5 745.4 1030.8 743.8 1031.9 743.4" stroke="#f7d05e" stroke-width="1.3" fill="none"/>
<path d="M0.0 735.6 L8.6 732.7 L11.4 728.9 L15.0 741.3 L21.4 724.9 L24.2 723.5 L27.8 730.6 L34.9 724.2 L40.6 730.6 L42.8 728.9 L46.3 735.6 L49.9 731.3 L55.6 715.6 L59.2 720.6 L65.6 711.4 L69.8 709.9 L72.7 712.8 L75.6 719.9 L78.4 717.0 L82.0 721.3 L85.5 716.3 L88.4 714.9 L91.2 718.5 L97.6 709.9 L100.5 713.5 L104.1 711.4 L106.9 720.6 L109.8 723.5 L113.3 733.4 L116.2 732.7 L119.7 741.3 L122.6 743.1 L125.4 733.4 L129.7 727.7 L132.6 720.6 L136.8 721.3 L139.7 724.2 L141.8 729.9 L144.7 719.9 L148.3 715.6 L151.8 709.2 L156.8 710.4 L160.4 708.9 L166.8 717.8 L170.3 728.5 L173.2 728.5 L176.8 718.5 L179.6 719.9 L182.5 711.4 L186.7 716.3 L189.6 717.0 L192.9 724.2 L195.7 722.0 L202.1 764.1 L205.7 757.7 L208.5 759.8 L212.1 744.9 L214.9 742.7 L218.5 732.7 L224.2 732.7 L227.8 728.9 L230.6 731.3 L233.5 729.2 L237.0 731.3 L240.6 721.3 L243.5 721.3 L247.0 727.0 L249.9 726.6 L254.1 730.6 L262.7 740.6 L269.1 726.0 L272.0 734.9 L274.8 734.9 L279.1 731.7 L281.9 732.7 L284.8 729.2 L288.4 737.7 L291.9 733.4 L294.8 737.0 L297.6 735.6 L300.5 727.0 L304.0 723.5 L306.9 728.5 L311.2 723.2 L314.0 723.5 L319.7 731.3 L323.3 726.3 L326.1 731.7 L329.7 712.8 L332.6 715.3 L335.4 716.3 L339.0 707.1 L345.4 700.0 L351.1 708.5 L353.9 707.1 L360.3 708.5 L363.9 701.4 L373.9 720.6 L376.7 719.9 L380.0 722.8 L386.4 714.9 L389.7 725.2 L392.8 724.2 L395.7 725.2 L400.0 717.8 L405.0 714.6 L408.5 717.5 L411.4 717.8 L414.5 725.2 L421.3 704.2 L428.5 716.1 L434.9 711.8 L437.7 711.4 L440.6 704.2 L444.1 701.4 L447.0 702.1 L449.9 707.1 L452.7 722.8 L459.1 722.8 L462.7 738.4 L465.5 743.1 L475.5 728.5 L478.4 727.7 L482.6 721.3 L484.8 722.8 L488.3 732.7 L491.2 729.9 L494.8 721.8 L498.3 728.9 L504.0 728.9 L507.3 738.0 L511.1 729.9 L516.6 719.2 L519.7 723.5 L525.4 723.2 L535.4 702.1 L541.8 699.2 L544.7 708.9 L551.8 704.2 L555.3 712.1 L561.0 705.6 L567.5 698.5 L570.0 700.7 L573.6 715.6 L576.4 714.2 L583.5 699.2 L589.2 701.4 L592.8 694.2 L599.2 688.5 L602.8 692.4 L605.6 690.0 L609.2 695.0 L612.1 690.7 L615.6 689.3 L618.5 699.0 L627.0 690.7 L631.0 684.7 L634.1 694.2 L640.6 687.5 L643.4 707.8 L647.0 707.1 L649.8 729.2 L655.5 728.9 L662.7 739.1 L668.4 736.3 L672.6 728.5 L681.9 737.7 L685.5 733.2 L691.2 732.0 L694.7 719.2 L700.9 708.5 L707.6 725.6 L710.4 727.0 L716.8 722.0 L722.5 729.9 L726.8 723.5 L732.5 714.9 L736.1 713.5 L741.1 700.0 L744.6 697.8 L748.9 697.8 L752.2 708.5 L755.3 704.2 L758.9 705.6 L761.7 698.5 L767.1 692.8 L770.7 702.8 L773.5 698.5 L776.4 700.7 L780.0 696.1 L783.5 699.9 L793.5 689.3 L796.8 688.5 L799.6 681.4 L802.8 709.9 L805.6 704.9 L809.2 717.5 L818.4 704.6 L824.9 715.3 L837.0 697.1 L843.4 705.6 L848.4 700.7 L853.4 704.9 L860.5 695.0 L863.3 694.2 L869.1 686.4 L872.6 689.3 L875.5 737.0 L879.0 743.1 L884.7 733.4 L888.3 748.0 L894.7 736.3 L897.6 737.7 L901.1 735.6 L904.7 742.0 L909.0 740.3 L914.0 743.7 L920.4 737.7 L926.8 727.7 L933.2 727.0 L936.0 727.7 L939.3 722.0 L940.0 722.8 L945.7 736.6 L948.6 734.9 L951.4 736.6 L960.7 728.5 L971.4 739.4 L974.9 739.9 L981.3 747.7 L987.0 756.3 L993.5 748.8 L996.3 749.1 L999.9 753.1 L1002.7 749.4 L1006.3 747.7 L1009.1 737.7 L1012.0 737.7 L1015.6 741.3 L1021.3 741.3 L1026.2 737.0 L1031.2 733.7" stroke="#7e57c2" stroke-width="1.1" fill="none" stroke-linejoin="round"/>
</g>
</svg>
<div style="position:absolute;left:1300px;top:28.8px;width:100px;height:5px;overflow:hidden"><div class="pl" style="left:51px;top:-7.8px">130.00000</div></div><div class="pl" style="top:48.9px">125.00000</div><div class="pl" style="top:77.1px">120.00000</div><div class="pl" style="top:105.3px">115.00000</div><div class="pl" style="top:133.5px">110.00000</div><div class="pl" style="top:161.7px">105.00000</div><div class="pl" style="top:189.9px">100.00000</div><div class="pl" style="top:218.1px">95.00000</div><div class="pl" style="top:246.3px">90.00000</div><div class="pl" style="top:274.5px">85.00000</div><div class="pl" style="top:302.7px">80.00000</div><div class="pl" style="top:330.9px">75.00000</div><div class="pl" style="top:359.1px">70.00000</div><div class="pl" style="top:387.3px">65.00000</div><div class="pl" style="top:443.7px">55.00000</div><div class="pl" style="top:471.9px">50.00000</div><div class="pl" style="top:500.1px">45.00000</div><div class="pl" style="top:528.3px">40.00000</div><div class="pl" style="top:556.5px">35.00000</div><div class="pl" style="top:584.7px">30.00000</div><div class="pl" style="top:612.9px">25.00000</div>
<div class="tl" style="left:37.4px">Feb</div><div class="tl" style="left:100.7px">Mar</div><div class="tl" style="left:167.6px">Apr</div><div class="tl" style="left:234.0px">May</div><div class="tl" style="left:303.8px">Jun</div><div class="tl" style="left:370.7px">Jul</div><div class="tl" style="left:444.0px">Aug</div><div class="tl" style="left:510.4px">Sep</div><div class="tl" style="left:580.3px">Oct</div><div class="tl" style="left:653.6px">Nov</div><div class="tl" style="left:717.6px">Dec</div><div class="tl" style="font-weight:bold;left:787.7px">2026</div><div class="tl" style="left:853.9px">Feb</div><div class="tl" style="left:917.0px">Mar</div><div class="tl" style="left:987.0px">Apr</div><div class="tl" style="left:1053.8px">May</div><div class="tl" style="left:1120.9px">Jun</div><div class="tl" style="left:1191.0px">Jul</div><div class="tl" style="left:1263.7px">Aug</div>
<div class="lab" style="top:67px;height:13px;background:#000;"><span>121.70000</span></div>
<div class="lab" style="top:325.3px;height:24.3px;background:#2b9b85;line-height:11.5px;padding-top:1px"><span>75.88650<br>16:49:45</span></div>
<div class="lab" style="top:391.5px;height:12.5px;background:#3f69f5;"><span>64.25000</span></div>
<div class="lab" style="top:411px;height:13px;background:#000;"><span>60.64017</span></div>
<div class="lab" style="top:450px;height:13px;background:#3ea891;"><span>53.79743</span></div>
<div class="lab" style="top:494px;height:13px;background:#000;"><span>46.00000</span></div>
<div class="pl" style="top:686px">80.00</div>
<div class="pl" style="top:714px">60.00</div>
<div class="lab" style="top:728px;height:12.6px;background:#7e57c2;"><span>49.72</span></div>
<div class="lab" style="top:741.6px;height:12.6px;background:#f5d041;color:#131722"><span>42.61</span></div>
<div class="fib" style="top:245.8px">1 (90.03124)</div>
<div class="fib" style="top:308.5px">0.618 (78.98150)</div>
<div class="fib" style="top:326.8px">0.5 (75.56822)</div>
<div class="fib" style="top:346.9px">0.382 (72.15495)</div>
<div class="fib" style="top:408.9px">0 (61.10521)</div>
<!-- legend -->
<div style="position:absolute;left:6px;top:8.5px;width:14px;height:14px;border-radius:50%;background:#d8eeea"></div>
<div style="position:absolute;left:9.5px;top:12px;width:7px;height:7px;border-radius:50%;background:#1b6b5b"></div>
<div class="lg" style="left:26.2px;color:#131722">O</div><div class="lg" style="left:34.2px;color:#089981">75.55365</div><div class="lg" style="left:79.3px;color:#131722">H</div><div class="lg" style="left:87px;color:#089981">76.00450</div><div class="lg" style="left:133.4px;color:#131722">L</div><div class="lg" style="left:139.1px;color:#089981">74.91075</div><div class="lg" style="left:184.7px;color:#131722">C</div><div class="lg" style="left:191.6px;color:#089981">75.88650</div><div class="lg" style="left:238px;color:#089981">+0.59835 (+0.79%)</div>
<div style="position:absolute;left:7.5px;top:27.3px;width:29px;height:16px;border:1px solid #e3e3e3;border-radius:3px;background:#fff"></div>
<svg style="position:absolute;left:11px;top:32px" width="8" height="6"><path d="M1 1.5L4 4.5L7 1.5" stroke="#131722" stroke-width="1.2" fill="none"/></svg>
<div style="position:absolute;left:23px;top:29.3px;font-size:11px;line-height:13px;color:#131722;transform:scaleX(0.86);transform-origin:0 0">13</div>
<svg style="position:absolute;left:49.7px;top:28.7px" width="14" height="14"><circle cx="7" cy="7" r="7" fill="#efe9fc"/><path d="M3.28 5.27A4.1 4.1 0 0 1 10.55 4.95" stroke="#7435f0" stroke-width="1.5" fill="none"/><path d="M11.55 6.68L11.90 3.48L8.61 5.38Z" fill="#7435f0"/><path d="M10.72 8.73A4.1 4.1 0 0 1 3.45 9.05" stroke="#7435f0" stroke-width="1.5" fill="none"/><path d="M2.45 7.32L2.10 10.52L5.39 8.62Z" fill="#7435f0"/></svg>
<!-- top right buttons -->
<div class="btn" style="left:1300px;top:6.4px"><svg width="18" height="18"><path d="M8.5 4.5V12.5M5.5 9.5L8.5 12.5L11.5 9.5" stroke="#2a2a2a" stroke-width="1" fill="none"/></svg></div>
<div class="btn" style="left:1322px;top:6.4px"><svg width="18" height="18"><path d="M4.5 7V6a1.5 1.5 0 0 1 1.5-1.5h5a1.5 1.5 0 0 1 1.5 1.5v1M4.5 10v1a1.5 1.5 0 0 0 1.5 1.5h5a1.5 1.5 0 0 0 1.5-1.5v-1" stroke="#2a2a2a" stroke-width="1" fill="none"/></svg></div>
<div class="btn" style="left:1347px;top:6.4px;width:51px;height:19.6px"><div style="position:absolute;left:3.4px;top:2.6px;font-size:10px;line-height:12px;color:#131722;transform:scaleX(0.8);transform-origin:0 0">USD</div><svg style="position:absolute;left:41px;top:7px" width="6" height="5"><path d="M0.8 1L3 3.2L5.2 1" stroke="#2a2a2a" stroke-width="1" fill="none"/></svg></div>
<!-- pane buttons row1 -->
<div class="btn" style="left:1235px;top:648.4px"><svg width="18" height="18"><path d="M8.5 13V5.6M5.3 8.8L8.5 5.6L11.7 8.8" stroke="#2a2a2a" stroke-width="1" fill="none"/></svg></div>
<div class="btn" style="left:1257px;top:648.4px"><svg width="18" height="18"><path d="M8.5 5.6V13M5.3 9.8L8.5 13L11.7 9.8" stroke="#2a2a2a" stroke-width="1" fill="none"/></svg></div>
<div class="btn" style="left:1279px;top:648.4px"><svg width="18" height="18"><path d="M4.4 6.2H12.6M5.3 6.2L6.3 13.3Q6.4 14.2 7.3 14.2H9.7Q10.6 14.2 10.7 13.3L11.7 6.2M6.8 6Q6.8 4.3 8.5 4.3Q10.2 4.3 10.2 6" stroke="#3a3a3a" stroke-width="1" fill="none"/></svg></div>
<div class="btn" style="left:1301px;top:648.4px;background:#2a2a2a;border-color:#2a2a2a"><svg width="18" height="18"><path d="M5.5 7.3L8.5 4.5L11.5 7.3M5.5 10.6L8.5 13.4L11.5 10.6" stroke="#fff" stroke-width="1" fill="none"/></svg></div>
<div class="btn" style="left:1323px;top:648.4px"><svg width="18" height="18"><path d="M4.5 7V6a1.5 1.5 0 0 1 1.5-1.5h5a1.5 1.5 0 0 1 1.5 1.5v1M4.5 10v1a1.5 1.5 0 0 0 1.5 1.5h5a1.5 1.5 0 0 0 1.5-1.5v-1" stroke="#2a2a2a" stroke-width="1" fill="none"/></svg></div>
<!-- pane buttons row2 -->
<div class="btn" style="left:1257px;top:674.6px"><svg width="18" height="18"><path d="M8.5 13V5.6M5.3 8.8L8.5 5.6L11.7 8.8" stroke="#2a2a2a" stroke-width="1" fill="none"/></svg></div>
<div class="btn" style="left:1279px;top:674.6px"><svg width="18" height="18"><path d="M4.4 6.2H12.6M5.3 6.2L6.3 13.3Q6.4 14.2 7.3 14.2H9.7Q10.6 14.2 10.7 13.3L11.7 6.2M6.8 6Q6.8 4.3 8.5 4.3Q10.2 4.3 10.2 6" stroke="#3a3a3a" stroke-width="1" fill="none"/></svg></div>
<div class="btn" style="left:1301px;top:674.6px"><svg width="18" height="18"><path d="M5.5 4.6L8.5 7.2L11.5 4.6M5.5 14.2L8.5 11.4L11.5 14.2" stroke="#2a2a2a" stroke-width="1" fill="none"/></svg></div>
<div class="btn" style="left:1323px;top:674.6px"><svg width="18" height="18"><path d="M4.5 7V6a1.5 1.5 0 0 1 1.5-1.5h5a1.5 1.5 0 0 1 1.5 1.5v1M4.5 10v1a1.5 1.5 0 0 0 1.5 1.5h5a1.5 1.5 0 0 0 1.5-1.5v-1" stroke="#2a2a2a" stroke-width="1" fill="none"/></svg></div>
<!-- rsi header -->
<div style="position:absolute;left:7.1px;top:676.7px;width:21.5px;height:16.5px;border:1px solid #e3e3e3;border-radius:3px;background:#fff"></div>
<svg style="position:absolute;left:13.8px;top:682.3px" width="8" height="6"><path d="M1 1.5L4 4.5L7 1.5" stroke="#131722" stroke-width="1.2" fill="none"/></svg>
<svg style="position:absolute;left:42px;top:678.3px" width="14" height="14"><circle cx="7" cy="7" r="7" fill="#efe9fc"/><path d="M3.28 5.27A4.1 4.1 0 0 1 10.55 4.95" stroke="#7435f0" stroke-width="1.5" fill="none"/><path d="M11.55 6.68L11.90 3.48L8.61 5.38Z" fill="#7435f0"/><path d="M10.72 8.73A4.1 4.1 0 0 1 3.45 9.05" stroke="#7435f0" stroke-width="1.5" fill="none"/><path d="M2.45 7.32L2.10 10.52L5.39 8.62Z" fill="#7435f0"/></svg>
<!-- tv logo -->
<svg style="position:absolute;left:6px;top:748px" width="30" height="17"><g stroke="#fff" stroke-width="2.5" stroke-linejoin="round" fill="#fff"><path d="M2.8 2.9H11.7V14.6H7.2V7.4H2.8Z"/><circle cx="16" cy="5.3" r="2.4"/><path d="M21.4 2.9H25.8L21.8 14.6H16.4Z"/></g><g fill="#000"><path d="M2.8 2.9H11.7V14.6H7.2V7.4H2.8Z"/><circle cx="16" cy="5.3" r="2.4"/><path d="M21.4 2.9H25.8L21.8 14.6H16.4Z"/></g></svg>
<!-- nav buttons -->
<div class="nav" style="left:619.6px"><svg width="19" height="19"><path d="M5.4 9.5H13.9" stroke="#131722" stroke-width="1.3"/></svg></div>
<div class="nav" style="left:644.7px"><svg width="19" height="19"><path d="M6 9.5H13.4M9.7 5.8V13.2" stroke="#131722" stroke-width="1.3"/></svg></div>
<div class="nav" style="left:675.8px"><svg width="19" height="19"><path d="M12.2 6.2L8.4 9.8L12.2 13.4" stroke="#131722" stroke-width="1.3" fill="none"/></svg></div>
<div class="nav" style="left:700.9px"><svg width="19" height="19"><path d="M7.5 6.2L11.3 9.8L7.5 13.4" stroke="#131722" stroke-width="1.3" fill="none"/></svg></div>
<div class="nav" style="left:732.4px"><svg width="19" height="19"><path d="M6.5 10.2A3.8 3.8 0 1 0 10.5 6.4" stroke="#131722" stroke-width="1.3" fill="none"/><path d="M8.3 6.4L11.2 4.7L11.2 8.1Z" fill="#131722"/></svg></div>
<!-- settings -->
<svg style="position:absolute;left:1366px;top:778.5px" width="15" height="13"><path d="M4.4 1.8H10.2L13 6.6L10.2 11.4H4.4L1.6 6.6Z" stroke="#2a2a2a" stroke-width="1" fill="none"/><circle cx="7.3" cy="6.6" r="1.6" stroke="#2a2a2a" stroke-width="1" fill="none"/></svg>
</body></html>
